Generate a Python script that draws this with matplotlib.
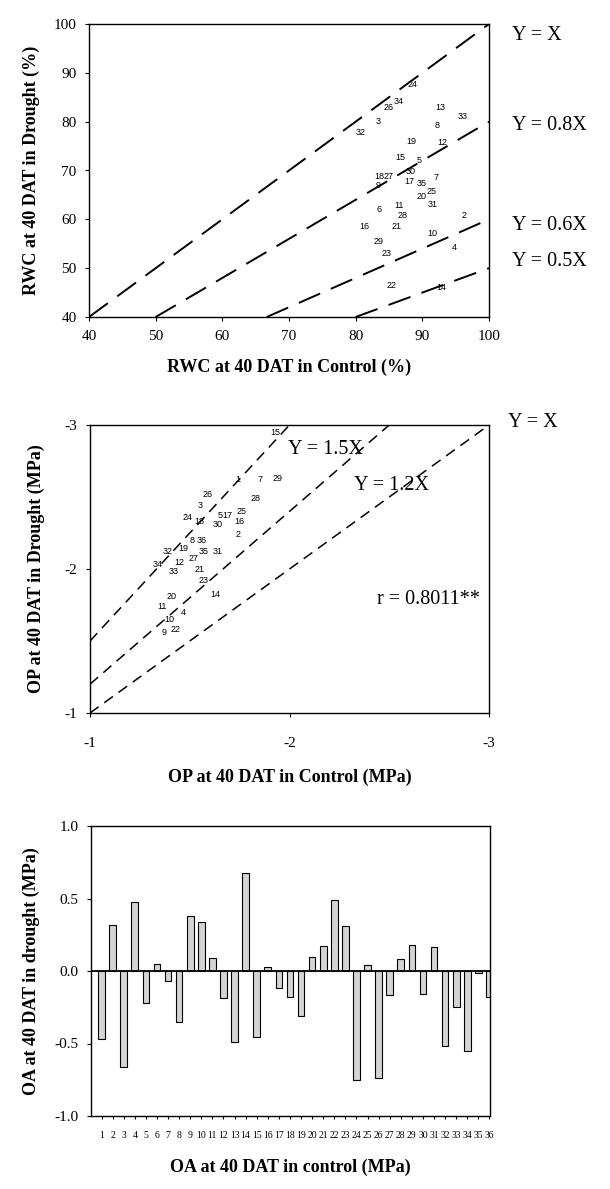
import matplotlib
matplotlib.use("Agg")
import matplotlib.pyplot as plt
import numpy as np

plt.rcParams['font.family'] = ['Liberation Serif', 'DejaVu Serif']

# --- panel 1: RWC (%) ---
rwc_labels = ['24', '34', '26', '13', '3', '33', '8', '32', '19', '12', '15', '5',
              '30', '18', '27', '9', '17', '35', '7', '20', '25', '11', '31', '6',
              '28', '2', '16', '21', '10', '29', '4', '23', '22', '14']
rwc_control = [88.6, 86.5, 84.9, 92.7, 83.4, 96.0, 92.2, 80.7, 88.3, 93.0, 86.7, 89.5,
               88.3, 83.6, 85.0, 83.3, 88.0, 89.9, 92.1, 89.9, 91.4, 86.5, 91.6, 83.5,
               87.0, 96.3, 81.3, 86.1, 91.5, 83.4, 94.8, 84.7, 85.4, 92.8]
rwc_drought = [87.7, 84.2, 83.0, 83.0, 80.1, 81.0, 79.3, 77.7, 76.0, 75.8, 72.6, 72.1,
               69.7, 68.7, 68.7, 67.0, 67.8, 67.3, 68.5, 64.6, 65.8, 62.9, 63.1, 62.1,
               60.7, 60.7, 58.6, 58.6, 57.2, 55.4, 54.3, 53.1, 46.5, 46.1]
rwc_slopes = [1.0, 0.8, 0.6, 0.5]
rwc_slope_text = ['Y = X', 'Y = 0.8X', 'Y = 0.6X', 'Y = 0.5X']

# --- panel 2: OP (MPa) ---
op_labels = ['15', '1', '7', '29', '26', '28', '3', '25', '24', '18', '5', '17',
             '16', '30', '2', '8', '36', '35', '31', '32', '19', '27', '34', '12',
             '33', '21', '23', '14', '20', '11', '4', '10', '9', '22']
op_control = [-1.93, -1.74, -1.85, -1.94, -1.59, -1.83, -1.55, -1.76, -1.49, -1.55, -1.65, -1.69,
              -1.75, -1.64, -1.74, -1.51, -1.56, -1.57, -1.64, -1.39, -1.47, -1.52, -1.34, -1.45,
              -1.42, -1.55, -1.57, -1.63, -1.41, -1.36, -1.47, -1.40, -1.37, -1.43]
op_drought = [-2.95, -2.62, -2.62, -2.63, -2.52, -2.49, -2.44, -2.40, -2.36, -2.33, -2.37, -2.37,
              -2.33, -2.31, -2.24, -2.20, -2.20, -2.12, -2.12, -2.12, -2.14, -2.075, -2.03, -2.045,
              -1.98, -2.00, -1.92, -1.82, -1.81, -1.74, -1.70, -1.65, -1.56, -1.58]
op_slopes = [1.0, 1.2, 1.5]

# --- panel 3: OA (MPa) ---
genotypes = [str(i) for i in range(1, 37)]
oa_values = [-0.47, 0.32, -0.66, 0.475, -0.22, 0.05, -0.07, -0.35, 0.38, 0.34, 0.09, -0.185,
             -0.49, 0.675, -0.455, 0.03, -0.12, -0.18, -0.31, 0.10, 0.17, 0.49, 0.31, -0.75,
             0.04, -0.74, -0.165, 0.08, 0.18, -0.16, 0.165, -0.52, -0.25, -0.55, -0.015, -0.18]

W, H = 610, 1189
fig = plt.figure(figsize=(W / 100, H / 100), dpi=100)


def px_axes(left, top, right, bottom):
    return fig.add_axes([left / W, 1 - bottom / H, (right - left) / W, (bottom - top) / H])


def style_box(ax):
    for s in ax.spines.values():
        s.set_linewidth(1.0)
        s.set_color('black')
    ax.tick_params(direction='out', length=3, width=0.8, labelsize=11, pad=6)


lbl_font = dict(fontsize=13, fontweight='bold')
num_font = dict(fontsize=6.5, family=['Liberation Sans', 'DejaVu Sans'], ha='center', va='center')

# panel 1
ax1 = px_axes(89, 24, 489, 317)
style_box(ax1)
ax1.set_xlim(40, 100)
ax1.set_ylim(40, 100)
ax1.set_xticks(range(40, 101, 10))
ax1.set_yticks(range(40, 101, 10))
for k in rwc_slopes:
    x0 = 40 / k
    ax1.plot([x0, 100], [40, 100 * k], color='black', lw=1.4, dashes=(12, 6))
for t, x, y in zip(rwc_labels, rwc_control, rwc_drought):
    ax1.text(x, y, t, **num_font)
ax1.set_xlabel('RWC at 40 DAT in Control (%)', labelpad=12, **lbl_font)
ax1.set_ylabel('RWC at 40 DAT in Drought (%)', labelpad=10, **lbl_font)
for txt, ypx in zip(rwc_slope_text, [35, 125, 225, 262]):
    fig.text(512 / W, 1 - ypx / H, txt, fontsize=14.5, va='center', ha='left')

# panel 2
ax2 = px_axes(90, 425, 489, 713)
style_box(ax2)
ax2.set_xlim(-1, -3)
ax2.set_ylim(-1, -3)
ax2.set_xticks([-1, -2, -3])
ax2.set_yticks([-1, -2, -3])
ax2.set_xticklabels(['-1', '-2', '-3'])
ax2.set_yticklabels(['-1', '-2', '-3'])
ax2.tick_params(axis='x', pad=14)
for k in op_slopes:
    x1 = -3 / k
    ax2.plot([-1, x1], [-k, -3], color='black', lw=1.1, dashes=(7, 4.5))
for t, x, y in zip(op_labels, op_control, op_drought):
    ax2.text(x, y, t, **num_font)
ax2.text(-1.99, -2.83, 'Y = 1.5X', fontsize=14.5, ha='left', va='center')
ax2.text(-2.70, -2.58, 'Y = 1.2X', fontsize=14.5, ha='right', va='center')
ax2.text(-2.955, -1.785, 'r = 0.8011**', fontsize=14.5, ha='right', va='center')
ax2.set_xlabel('OP at 40 DAT in Control (MPa)', labelpad=14, **lbl_font)
ax2.set_ylabel('OP at 40 DAT in Drought (MPa)', labelpad=14, **lbl_font)
fig.text(508 / W, 1 - 422 / H, 'Y = X', fontsize=14.5, va='center', ha='left')

# panel 3
ax3 = px_axes(91, 826, 490, 1116)
style_box(ax3)
pos = np.arange(1, len(oa_values) + 1)
ax3.bar(pos, oa_values, width=0.6, color='#d4d4d4', edgecolor='black', linewidth=0.8)
ax3.axhline(0, color='black', lw=1.3)
ax3.set_xlim(0.05, 36.05)
ax3.set_ylim(-1.0, 1.0)
ax3.set_yticks([-1.0, -0.5, 0.0, 0.5, 1.0])
ax3.set_yticklabels(['%.1f' % v for v in [-1.0, -0.5, 0.0, 0.5, 1.0]])
ax3.set_xticks(pos)
ax3.set_xticklabels(genotypes, fontsize=7)
ax3.tick_params(axis='x', length=2.5, pad=8)
ax3.set_xlabel('OA at 40 DAT in control (MPa)', labelpad=14, **lbl_font)
ax3.set_ylabel('OA at 40 DAT in drought (MPa)', labelpad=10, **lbl_font)

fig.savefig('out.png', dpi=100)
